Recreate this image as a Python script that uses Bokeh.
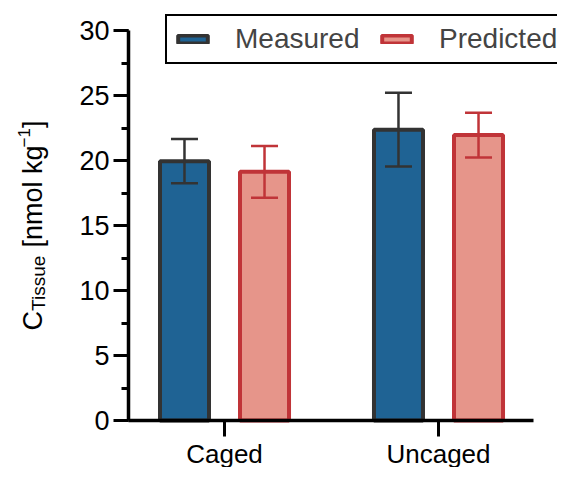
import math
from bokeh.plotting import figure
from bokeh.models import (Range1d, FixedTicker, SingleIntervalTicker, Whisker, TeeHead,
                          Legend, LegendItem, Label, ColumnDataSource)
from bokeh.embed import file_html
from bokeh.resources import INLINE

# ---- data ----
categories = ["Caged", "Uncaged"]
measured = [19.95, 22.37]
measured_sd = [1.70, 2.84]
predicted = [19.13, 21.96]
predicted_sd = [1.99, 1.72]
y_min, y_max, y_step = 0, 30, 5

# ---- styles / layout ----
FONT = "Liberation Sans"
BLUE = "#1f6394"
BLUE_EDGE = "#333333"
PINK = "#e6958a"
RED_EDGE = "#c03438"
OFFSET = 0.187
BAR_W = 0.229
W_PX, H_PX = 557, 467
PX_PER_CAT = 214.0       # pixels per category step
CAT1_PX = 224.0          # pixel x of first category
AX_LEFT_PX, AX_RIGHT_PX = 128.0, 533.0
Y0_PX, YTOP_PX = 420.0, 30.0

x_lo = 1 - CAT1_PX / PX_PER_CAT
x_hi = 1 + (W_PX - CAT1_PX) / PX_PER_CAT
ppu = (Y0_PX - YTOP_PX) / (y_max - y_min)
y_hi = y_max + YTOP_PX / ppu
y_lo = y_min - (H_PX - Y0_PX) / ppu
xb_lo = 1 + (AX_LEFT_PX - CAT1_PX) / PX_PER_CAT
xb_hi = 1 + (AX_RIGHT_PX - CAT1_PX) / PX_PER_CAT

pos = [i + 1 for i in range(len(categories))]
src_m = ColumnDataSource(dict(
    x=[p_ - OFFSET for p_ in pos], top=measured,
    upper=[m + s for m, s in zip(measured, measured_sd)],
    lower=[m - s for m, s in zip(measured, measured_sd)]))
src_p = ColumnDataSource(dict(
    x=[p_ + OFFSET for p_ in pos], top=predicted,
    upper=[m + s for m, s in zip(predicted, predicted_sd)],
    lower=[m - s for m, s in zip(predicted, predicted_sd)]))

p = figure(width=W_PX, height=H_PX, output_backend="svg", toolbar_location=None,
           x_range=Range1d(x_lo, x_hi), y_range=Range1d(y_lo, y_hi),
           min_border_left=0, min_border_right=0, min_border_top=0,
           min_border_bottom=0, title=None)
p.outline_line_color = None
p.xgrid.visible = False
p.ygrid.visible = False
p.background_fill_color = "white"
p.border_fill_color = "white"

r1 = p.vbar(x="x", top="top", bottom=0, width=BAR_W, source=src_m,
            fill_color=BLUE, line_color=BLUE_EDGE, line_width=4)
r2 = p.vbar(x="x", top="top", bottom=0, width=BAR_W, source=src_p,
            fill_color=PINK, line_color=RED_EDGE, line_width=4)

for src, col in ((src_m, BLUE_EDGE), (src_p, RED_EDGE)):
    w = Whisker(source=src, base="x", upper="upper", lower="lower",
                line_color=col, line_width=2.5, level="annotation",
                upper_head=TeeHead(size=27, line_color=col, line_width=2.5),
                lower_head=TeeHead(size=27, line_color=col, line_width=2.5))
    p.add_layout(w)

# axes
yax = p.yaxis[0]
yax.fixed_location = xb_lo
yax.bounds = (y_min, y_max)
yax.ticker = SingleIntervalTicker(interval=y_step, num_minor_ticks=2)
yax.axis_line_width = 3.5
yax.axis_line_color = "black"
yax.major_tick_line_width = 3
yax.major_tick_out = 15
yax.major_tick_in = 0
yax.minor_tick_line_width = 3
yax.minor_tick_out = 7
yax.minor_tick_in = 0
yax.major_label_text_font = FONT
yax.major_label_text_font_size = "27px"
yax.major_label_text_color = "black"
yax.major_label_standoff = 4

xax = p.xaxis[0]
xax.fixed_location = y_min
xax.bounds = (xb_lo, xb_hi)
xax.ticker = FixedTicker(ticks=pos)
xax.major_label_overrides = {pp: c for pp, c in zip(pos, categories)}
xax.axis_line_width = 3.5
xax.axis_line_color = "black"
xax.major_tick_line_width = 3
xax.major_tick_out = 16
xax.major_tick_in = 0
xax.minor_tick_line_color = None
xax.major_label_text_font = FONT
xax.major_label_text_font_size = "26px"
xax.major_label_text_color = "black"
xax.major_label_standoff = 2

# legend (right side runs past the edge, as in the reference)
legend = Legend(items=[LegendItem(label="Measured", renderers=[r1]),
                       LegendItem(label="Predicted", renderers=[r2])],
                location=(165, H_PX - 64), orientation="horizontal", padding=7,
                spacing=13, label_standoff=24, label_width=130,
                glyph_width=37, glyph_height=10,
                label_text_font=FONT, label_text_font_size="28px",
                border_line_color="black", border_line_width=2, border_line_alpha=1,
                margin=0, background_fill_color="white", background_fill_alpha=1)
p.add_layout(legend)

# y-axis title with subscript / superscript
W = {'C': 0.722, 'T': 0.611, 'i': 0.222, 's': 0.5, 'u': 0.556, 'e': 0.556, ' ': 0.278,
     '[': 0.278, 'n': 0.556, 'm': 0.833, 'o': 0.556, 'l': 0.222, 'k': 0.5, 'g': 0.556,
     '\u2212': 0.584, '1': 0.556, ']': 0.278}
# (text, font px, baseline x px, extra advance before piece)
pieces = [("C", 27, 32, 0), ("Tissue", 19, 38, 0), (" [nmol kg", 27, 32, 0),
          ("\u22121", 17, 23, -2), ("]", 27, 32, 0)]
total = sum(sum(W[ch] for ch in t) * s + e for t, s, _, e in pieces)
y_page = (Y0_PX + YTOP_PX) / 2 + total / 2
for txt, size, base_x, extra in pieces:
    y_page -= extra
    lead = len(txt) - len(txt.lstrip(" "))
    y_page -= lead * W[' '] * size
    txt = txt.lstrip(" ")
    p.add_layout(Label(x=base_x, y=H_PX - y_page,
                       x_units="screen", y_units="screen", text=txt, angle=math.pi / 2,
                       text_align="left", text_baseline="alphabetic",
                       text_font=FONT, text_font_size=f"{size}px", text_color="black"))
    y_page -= sum(W[ch] for ch in txt) * size

open("out.html", "w").write(file_html(p, INLINE))
